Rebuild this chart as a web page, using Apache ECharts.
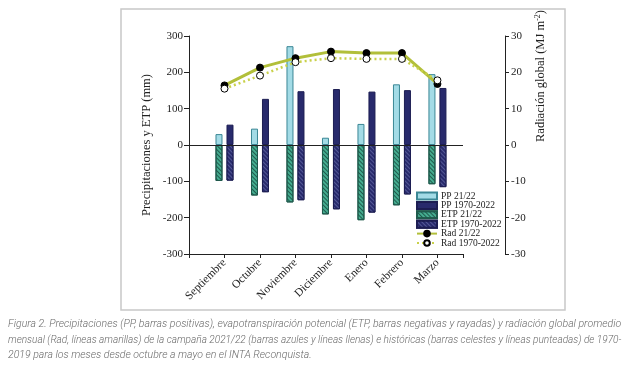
<!DOCTYPE html>
<html>
<head>
<meta charset="utf-8">
<script src="https://cdn.jsdelivr.net/npm/echarts@6/dist/echarts.min.js"></script>
<style>html,body{margin:0;padding:0;background:#fff;}#c{width:629px;height:368px;}</style>
</head>
<body>
<div id="c"></div>
<script>
var months = ['Septiembre','Octubre','Noviembre','Diciembre','Enero','Febrero','Marzo'];
var pp2122 = [30, 45, 272, 20, 58, 167, 195];
var pp7022 = [56, 127, 148, 154, 147, 151, 157];
var etp2122 = [-99, -139, -158, -191, -207, -166, -108];
var etp7022 = [-98, -130, -152, -177, -186, -136, -116];
var rad2122 = [16.4, 21.3, 23.9, 25.7, 25.3, 25.3, 16.8];
var rad7022 = [15.5, 19.1, 22.8, 23.9, 23.7, 23.7, 17.8];
var leftTicks = {min: -300, max: 300, interval: 100};
var rightTicks = {min: -30, max: 30, interval: 10};
var caption = [
  'Figura 2. Precipitaciones (PP, barras positivas), evapotranspiración potencial (ETP, barras negativas y rayadas) y radiación global promedio',
  'mensual (Rad, líneas amarillas) de la campaña 2021/22 (barras azules y líneas llenas) e históricas (barras celestes y líneas punteadas) de 1970-',
  '2019 para los meses desde octubre a mayo en el INTA Reconquista.'
];

function pts(arr){ return arr.map(function(v,i){ return [i+1, v]; }); }

// fit caption lines to the justified width of the reference
var capWidth = 614;
var mctx = document.createElement('canvas').getContext('2d');
function capSize(txt){
  mctx.font = 'italic 300 10px Roboto';
  var w = mctx.measureText(txt).width;
  return Math.min(11, 10 * capWidth / w);
}
var s1 = capSize(caption[0]);
var s2 = capSize(caption[1]);
var capFonts = [
  'italic 300 ' + s1.toFixed(2) + 'px Roboto',
  'italic 300 ' + s2.toFixed(2) + 'px Roboto',
  'italic 300 ' + s1.toFixed(2) + 'px Roboto'
];

var serif = 'Liberation Serif';
var chart = echarts.init(document.getElementById('c'), null, {renderer:'canvas'});
var barW = 7;
var option = {
  animation: false,
  backgroundColor: '#fff',
  grid: {left: 189, right: 166, top: 36, height: 218, containLabel: false},
  xAxis: {
    type: 'value', min: 0, max: 7.72, interval: 1,
    axisLine: {onZero: false, lineStyle: {color: '#222', width: 1}},
    axisTick: {show: true, length: 4, lineStyle: {color: '#222'}},
    splitLine: {show: false},
    axisLabel: {
      rotate: 45, margin: 7, fontFamily: serif, fontSize: 11.5, color: '#222',
      formatter: function(v){ var i = Math.round(v); return (Math.abs(v - i) < 1e-6 && i >= 1 && i <= months.length) ? months[i-1] : ''; }
    }
  },
  yAxis: [
    {
      type: 'value', min: leftTicks.min, max: leftTicks.max, interval: leftTicks.interval,
      axisLine: {show: true, lineStyle: {color: '#222'}},
      axisTick: {show: true, length: 5, lineStyle: {color: '#222'}},
      splitLine: {show: false},
      axisLabel: {fontFamily: serif, fontSize: 11, color: '#222', margin: 6}
    },
    {
      type: 'value', position: 'right', offset: 42,
      min: rightTicks.min, max: rightTicks.max, interval: rightTicks.interval,
      axisLine: {show: true, lineStyle: {color: '#222'}},
      axisTick: {show: true, length: 4, lineStyle: {color: '#222'}},
      splitLine: {show: false},
      axisLabel: {fontFamily: serif, fontSize: 11, color: '#222', margin: 6}
    }
  ],
  legend: {
    orient: 'vertical', left: 416, top: 191, padding: 0,
    itemWidth: 20, itemHeight: 7, itemGap: -0.6,
    textStyle: {fontFamily: serif, fontSize: 9.5, color: '#222', padding: [0,0,0,-1]},
    data: [
      {name: 'PP 21/22', icon: 'rect'}, {name: 'PP 1970-2022', icon: 'rect'},
      {name: 'ETP 21/22', icon: 'rect'}, {name: 'ETP 1970-2022', icon: 'rect'},
      {name: 'Rad 21/22'}, {name: 'Rad 1970-2022'}
    ]
  },
  graphic: [
    {type: 'rect', shape: {x: 121, y: 9, width: 444, height: 301}, style: {fill: 'none', stroke: '#c8c8c8', lineWidth: 1.5}, silent: true},
    {type: 'text', x: 147, y: 145, rotation: Math.PI/2,
     style: {text: 'Precipitaciones y ETP (mm)', font: '12.5px "Liberation Serif"', fill: '#222', textAlign: 'center', textVerticalAlign: 'middle'}},
    {type: 'text', x: 541, y: 76, rotation: Math.PI/2,
     style: {text: 'Radiación global (MJ m{s|-2})', font: '12.5px "Liberation Serif"', fill: '#222', textAlign: 'center', textVerticalAlign: 'middle',
       rich: {s: {fontSize: 8, fontFamily: serif, verticalAlign: 'top', padding: [0,0,6,0]}}}},
    {type: 'text', x: 8, y: 324, style: {text: caption[0], font: capFonts[0], fill: '#6a6a6a', textVerticalAlign: 'middle'}},
    {type: 'text', x: 8, y: 340, style: {text: caption[1], font: capFonts[1], fill: '#6a6a6a', textVerticalAlign: 'middle'}},
    {type: 'text', x: 8, y: 355.5, style: {text: caption[2], font: capFonts[2], fill: '#6a6a6a', textVerticalAlign: 'middle'}}
  ],
  series: [
    {
      name: 'PP 21/22', type: 'bar', stack: 'a', barWidth: barW, barGap: '57%', data: pts(pp2122),
      itemStyle: {color: '#a3dbe6', borderColor: '#3b8795', borderWidth: 1},
      markLine: {silent: true, symbol: 'none', label: {show: false},
        lineStyle: {color: '#222', type: 'solid', width: 1}, data: [{yAxis: 0}]}
    },
    {
      name: 'PP 1970-2022', type: 'bar', stack: 'b', barWidth: barW, barGap: '57%', data: pts(pp7022),
      itemStyle: {color: '#282a6c', borderColor: '#1c1d52', borderWidth: 1}
    },
    {
      name: 'ETP 21/22', type: 'bar', stack: 'a', barWidth: barW, barGap: '57%', data: pts(etp2122),
      itemStyle: {color: '#45ad90', borderColor: '#1f5a4c', borderWidth: 1,
        decal: {symbol: 'rect', symbolSize: 1, color: 'rgba(25,75,65,0.85)', dashArrayX: [1, 0], dashArrayY: [0.8, 1.8], rotation: Math.PI/4}}
    },
    {
      name: 'ETP 1970-2022', type: 'bar', stack: 'b', barWidth: barW, barGap: '57%', data: pts(etp7022),
      itemStyle: {color: '#282a6c', borderColor: '#1c1d52', borderWidth: 1,
        decal: {symbol: 'rect', symbolSize: 1, color: 'rgba(95,100,160,0.8)', dashArrayX: [1, 0], dashArrayY: [0.8, 1.8], rotation: Math.PI/4}}
    },
    {
      name: 'Rad 21/22', type: 'line', yAxisIndex: 1, data: pts(rad2122),
      symbol: 'circle', symbolSize: 7, z: 5,
      lineStyle: {color: '#b2bf3a', width: 3},
      itemStyle: {color: '#000', borderColor: '#000', borderWidth: 1}
    },
    {
      name: 'Rad 1970-2022', type: 'line', yAxisIndex: 1, data: pts(rad7022),
      symbol: 'circle', symbolSize: 7, z: 6,
      lineStyle: {color: '#c9d14a', width: 2.5, type: [2, 3]},
      itemStyle: {color: '#fff', borderColor: '#000', borderWidth: 1}
    }
  ]
};
chart.setOption(option);
</script>
</body>
</html>
